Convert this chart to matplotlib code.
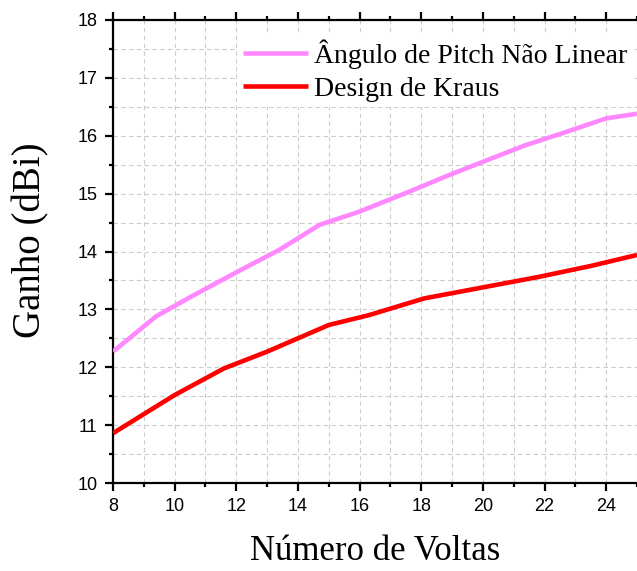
import numpy as np
import matplotlib.pyplot as plt
from matplotlib.ticker import MultipleLocator

# Gain vs. number of turns for the two helix designs
turns_pitch = [8, 9.4, 10.5, 12, 13.4, 14.7, 16, 17.5, 18.9, 20, 21.4, 22.5, 24, 25]
gain_pitch = [12.27, 12.88, 13.21, 13.64, 14.03, 14.46, 14.69, 15.01, 15.32,
              15.55, 15.84, 16.03, 16.30, 16.38]

turns_kraus = [8, 10, 11.6, 13, 15, 16.3, 18.1, 20, 21.8, 23.5, 25]
gain_kraus = [10.86, 11.52, 11.98, 12.27, 12.73, 12.90, 13.19, 13.38, 13.56,
              13.75, 13.94]

label_pitch = "Ângulo de Pitch Não Linear"
label_kraus = "Design de Kraus"

serif = ["Liberation Serif", "DejaVu Serif"]
sans = ["Liberation Sans", "DejaVu Sans"]

fig = plt.figure(figsize=(6.37, 5.71), dpi=100)
ax = fig.add_axes([113 / 637, 1 - 483 / 571, 524 / 637, 463 / 571])

ax.plot(turns_pitch, gain_pitch, color="#ff88ff", lw=3.3, label=label_pitch,
        solid_capstyle="butt", zorder=3)
ax.plot(turns_kraus, gain_kraus, color="#ff0000", lw=3.3, label=label_kraus,
        solid_capstyle="butt", zorder=3)

ax.set_xlim(8, 25)
ax.set_ylim(10, 18)
ax.xaxis.set_major_locator(MultipleLocator(2))
ax.xaxis.set_minor_locator(MultipleLocator(1))
ax.yaxis.set_major_locator(MultipleLocator(1))
ax.yaxis.set_minor_locator(MultipleLocator(0.5))

ax.grid(which="both", color="#cccccc", linestyle=(0, (4, 3)), linewidth=0.8)
ax.set_axisbelow(True)

for side in ["left", "bottom", "top"]:
    ax.spines[side].set_linewidth(1.6)
ax.spines["right"].set_visible(False)

ax.tick_params(which="both", direction="out", top=True, right=False,
               labeltop=False, width=1.6)
ax.tick_params(which="major", length=6, pad=5, labelsize=13)
ax.tick_params(which="minor", length=3)
for lbl in ax.get_xticklabels() + ax.get_yticklabels():
    lbl.set_family(sans)

ax.set_xlabel("Número de Voltas", family=serif, fontsize=25, labelpad=14)
ax.set_ylabel("Ganho (dBi)", family=serif, fontsize=28)
ax.yaxis.set_label_coords(-0.122, 0.525)

leg = ax.legend(loc="upper left", bbox_to_anchor=(0.237, 0.970),
                prop={"family": serif, "size": 20}, frameon=True,
                fancybox=False, borderaxespad=0, borderpad=0.2,
                handlelength=2.34, handletextpad=0.22, labelspacing=0.27)
leg.get_frame().set_edgecolor("none")
leg.get_frame().set_facecolor("white")
leg.get_frame().set_alpha(1)

fig.savefig("out.png", dpi=100)
